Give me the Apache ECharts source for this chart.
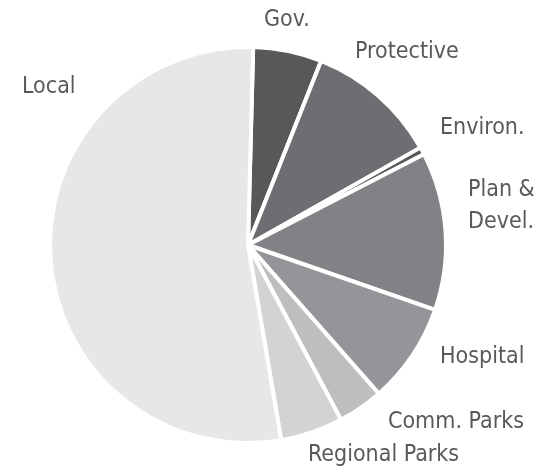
<!DOCTYPE html>
<html>
<head>
<meta charset="utf-8">
<script src="https://cdn.jsdelivr.net/npm/echarts@6/dist/echarts.min.js"></script>
<style>html,body{margin:0;padding:0;background:#fff}#c{width:537px;height:470px}</style>
</head>
<body>
<div id="c"></div>
<script>
var categories = ['Gov.', 'Protective', 'Environ.', 'Plan &\nDevel.', 'Hospital', 'Comm. Parks', 'Regional Parks', 'Local'];
var values = [5.6, 10.8, 0.6, 12.9, 8.2, 3.7, 5.1, 53.1];
var colors = ['#58585a', '#6d6e71', '#58585a', '#808285', '#939598', '#bcbec0', '#d1d3d4', '#e6e7e8'];
var labelPos = [[264, 20], [355, 52], [440, 128], [468, 206], [440, 357], [388, 422], [308, 455], [22, 87]];

var chart = echarts.init(document.getElementById('c'), null, {renderer: 'canvas'});
var data = categories.map(function (c, i) {
  return {name: c, value: values[i], itemStyle: {color: colors[i]}};
});
chart.setOption({
  animation: false,
  series: [{
    type: 'pie',
    center: [248, 245],
    radius: 198,
    startAngle: 88.5,
    clockwise: true,
    avoidLabelOverlap: false,
    itemStyle: {borderColor: '#fff', borderWidth: 4},
    label: {
      show: true,
      position: 'outside',
      formatter: '{b}',
      fontFamily: "'Liberation Sans Narrow', 'DejaVu Sans Condensed', sans-serif",
      fontSize: 23,
      lineHeight: 32,
      color: '#58595b'
    },
    labelLine: {show: false},
    labelLayout: function (p) {
      var pos = labelPos[p.dataIndex];
      return {x: pos[0], y: pos[1], align: 'left', verticalAlign: 'middle'};
    },
    emphasis: {disabled: true},
    data: data
  }]
});
</script>
</body>
</html>
